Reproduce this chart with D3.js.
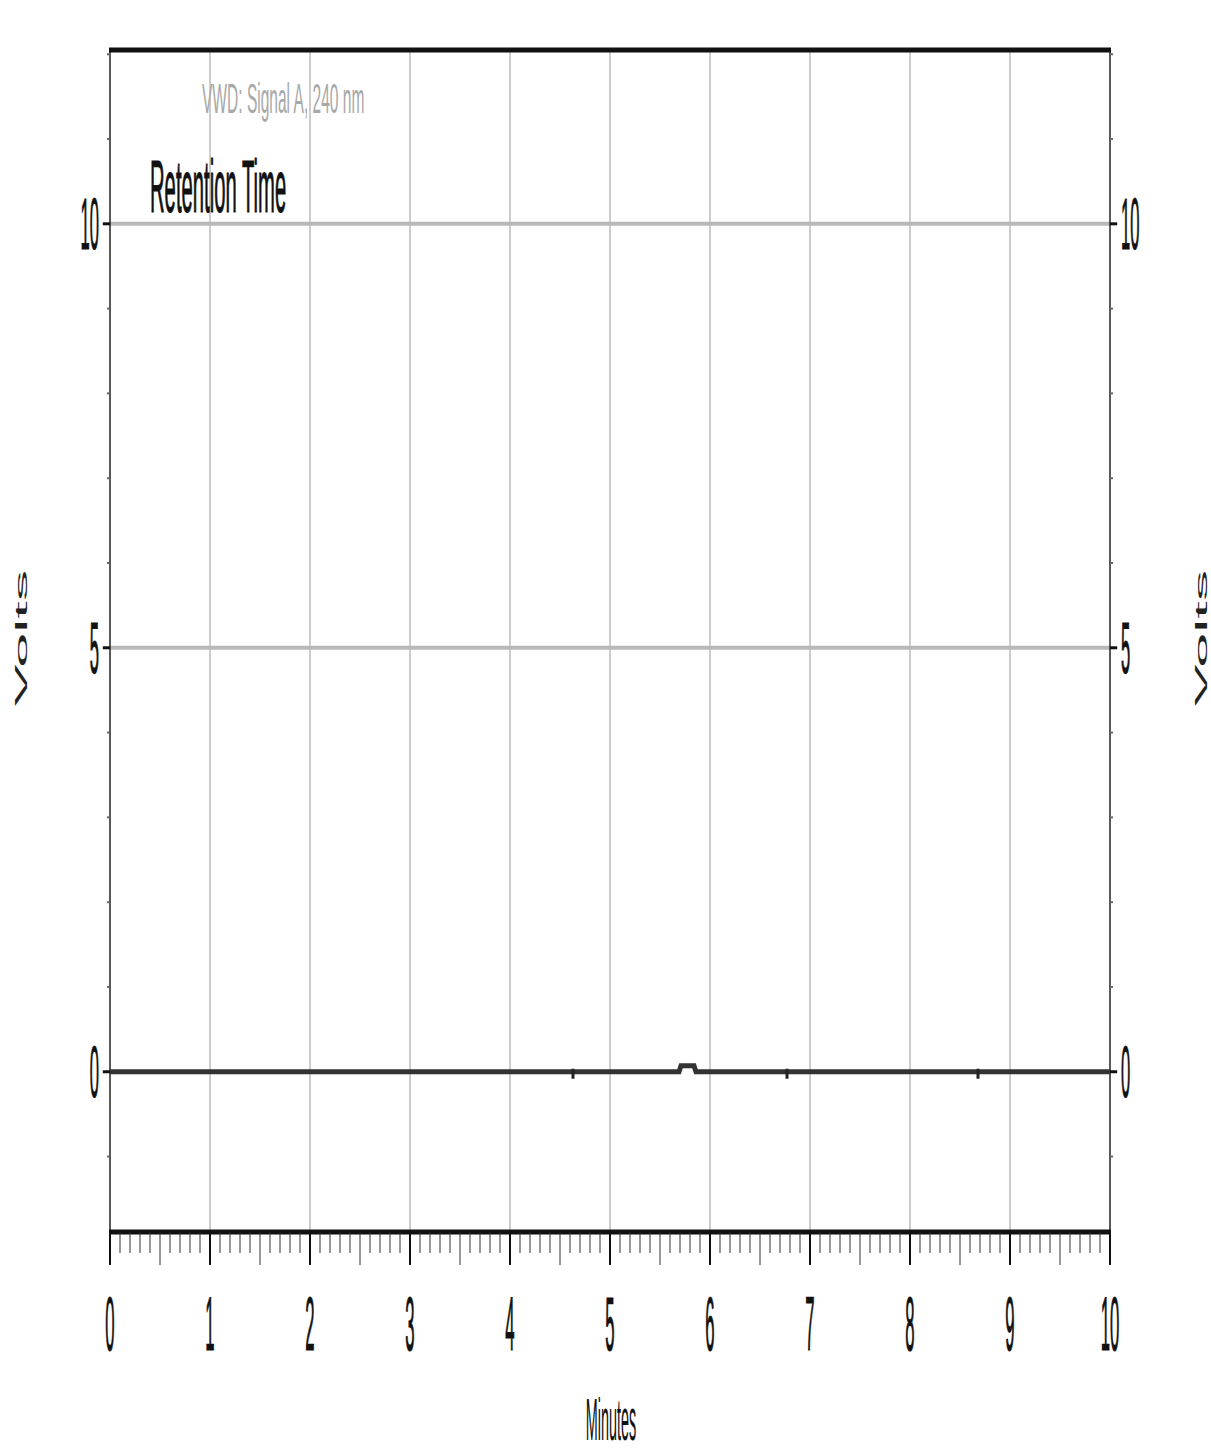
<!DOCTYPE html>
<html>
<head>
<meta charset="utf-8">
<title>VWD: Signal A, 240 nm</title>
<script src="https://cdn.jsdelivr.net/npm/d3@7"></script>
<style>
  html, body { margin: 0; padding: 0; background: #fff; }
  svg { display: block; font-family: "Liberation Sans", Arial, sans-serif; }
  .thick { stroke: currentColor; stroke-width: 0.9; vector-effect: non-scaling-stroke; }
</style>
</head>
<body>
<svg id="chart" width="1211" height="1451"></svg>
<script>
// Chromatogram trace (minutes, volts)
const traceTime  = [0, 5.69, 5.71, 5.84, 5.86, 10];
const traceVolts = [0, 0,    0.07, 0.07, 0,    0];
// Integration marks along the baseline (minutes)
const peakMarks = [4.63, 6.77, 8.68];
// Axis ticks
const xTickLabels = [0, 1, 2, 3, 4, 5, 6, 7, 8, 9, 10];
const yTickLabels = [0, 5, 10];
const xDomain = [0, 10];
const yDomain = [-1.89, 12.05];
const signalName = "VWD: Signal A, 240 nm";
const traceTitle = "Retention Time";
const xTitle = "Minutes";
const yTitle = "Volts";

const svg = d3.select("#chart");
const plotLeft = 110, plotRight = 1110, plotTop = 50, plotBottom = 1232;

const x = d3.scaleLinear().domain(xDomain).range([plotLeft, plotRight]);
const y = d3.scaleLinear().domain(yDomain).range([plotBottom, plotTop]);

// squeezed text helper: group translated then scaled
function squeezed(parent, px, py, sx, sy) {
  return parent.append("g").attr("transform", `translate(${px},${py}) scale(${sx},${sy})`);
}

// vertical grid lines every minute
svg.append("g").selectAll("line")
  .data(xTickLabels.filter(d => d > xDomain[0] && d < xDomain[1]))
  .join("line")
  .attr("x1", d => x(d)).attr("x2", d => x(d))
  .attr("y1", plotTop).attr("y2", plotBottom)
  .attr("stroke", "#9a9a9a").attr("stroke-width", 1);

// horizontal grid lines at labelled volts
svg.append("g").selectAll("line")
  .data(yTickLabels.filter(d => d !== 0))
  .join("line")
  .attr("x1", plotLeft).attr("x2", plotRight)
  .attr("y1", d => y(d)).attr("y2", d => y(d))
  .attr("stroke", "#b8b8b8").attr("stroke-width", 4);

// signal name and title
squeezed(svg, 202, 113, 0.37, 1).append("text")
  .attr("font-size", 42).attr("fill", "#a8a8a8").text(signalName);
squeezed(svg, 150, 212, 0.27, 1).append("text")
  .attr("class", "thick").style("color", "#111")
  .attr("font-size", 75).attr("fill", "#111").text(traceTitle);

// frame: side axes and thick top/bottom borders
svg.append("line").attr("x1", plotLeft).attr("x2", plotLeft).attr("y1", plotTop).attr("y2", plotBottom)
  .attr("stroke", "#222").attr("stroke-width", 1.5);
svg.append("line").attr("x1", plotRight).attr("x2", plotRight).attr("y1", plotTop).attr("y2", plotBottom)
  .attr("stroke", "#222").attr("stroke-width", 1.5);
svg.append("line").attr("x1", plotLeft - 1).attr("x2", plotRight + 1)
  .attr("y1", y(yDomain[1])).attr("y2", y(yDomain[1]))
  .attr("stroke", "#111").attr("stroke-width", 5);
svg.append("line").attr("x1", plotLeft - 1).attr("x2", plotRight + 1)
  .attr("y1", y(yDomain[0])).attr("y2", y(yDomain[0]))
  .attr("stroke", "#111").attr("stroke-width", 5);

// x ticks: minor every 0.1, half-minute and whole-minute longer
const xMinor = x.ticks(100);
const tenth = d => Math.round(d * 10) % 10;
svg.append("g").selectAll("line")
  .data(xMinor)
  .join("line")
  .attr("x1", d => x(d)).attr("x2", d => x(d))
  .attr("y1", plotBottom)
  .attr("y2", d => plotBottom + (tenth(d) === 0 || tenth(d) === 5 ? 33 : 21))
  .attr("stroke", d => tenth(d) === 0 ? "#111" : "#333")
  .attr("stroke-width", d => tenth(d) === 0 ? 2 : 1);

// x tick labels
xTickLabels.forEach(d => {
  squeezed(svg, x(d), 1350, 0.22, 1).append("text")
    .attr("class", "thick").style("color", "#111")
    .attr("text-anchor", "middle").attr("font-size", 76).attr("fill", "#111").text(d);
});

// y ticks: minor every volt, major at labels
const yMinor = y.ticks(15).filter(d => !yTickLabels.includes(d));
[[plotLeft, -3], [plotRight, 3]].forEach(([ax, dir]) => {
  svg.append("g").selectAll("line")
    .data(yMinor)
    .join("line")
    .attr("x1", ax).attr("x2", ax + dir)
    .attr("y1", d => y(d)).attr("y2", d => y(d))
    .attr("stroke", "#666").attr("stroke-width", 2);
  svg.append("g").selectAll("line")
    .data(yTickLabels)
    .join("line")
    .attr("x1", ax).attr("x2", ax + dir * 2.4)
    .attr("y1", d => y(d)).attr("y2", d => y(d))
    .attr("stroke", "#111").attr("stroke-width", 3);
});

// y tick labels on both sides
yTickLabels.forEach(d => {
  squeezed(svg, 99, y(d) + 25, 0.23, 1).append("text")
    .attr("class", "thick").style("color", "#111")
    .attr("text-anchor", "end").attr("font-size", 72).attr("fill", "#111").text(d);
  squeezed(svg, 1121, y(d) + 25, 0.23, 1).append("text")
    .attr("class", "thick").style("color", "#111")
    .attr("text-anchor", "start").attr("font-size", 72).attr("fill", "#111").text(d);
});

// axis titles
squeezed(svg, 611, 1440, 0.24, 1).append("text")
  .attr("text-anchor", "middle").attr("font-size", 60).attr("fill", "#111").text(xTitle);
[27, 1207].forEach(px => {
  svg.append("g").attr("transform", `translate(${px},638) rotate(-90) scale(1,0.27)`)
    .append("text").attr("text-anchor", "middle").attr("font-size", 63).attr("fill", "#222").text(yTitle);
});

// chromatogram trace
const line = d3.line().x(d => x(d[0])).y(d => y(d[1])).curve(d3.curveLinear);
svg.append("path")
  .datum(traceTime.map((t, i) => [t, traceVolts[i]]))
  .attr("d", line)
  .attr("fill", "none").attr("stroke", "#333").attr("stroke-width", 5)
  .attr("stroke-linejoin", "miter");

// integration marks
svg.append("g").selectAll("rect")
  .data(peakMarks)
  .join("rect")
  .attr("x", d => x(d) - 1.5).attr("width", 3)
  .attr("y", y(0) - 3).attr("height", 10)
  .attr("fill", "#222");
</script>
</body>
</html>
